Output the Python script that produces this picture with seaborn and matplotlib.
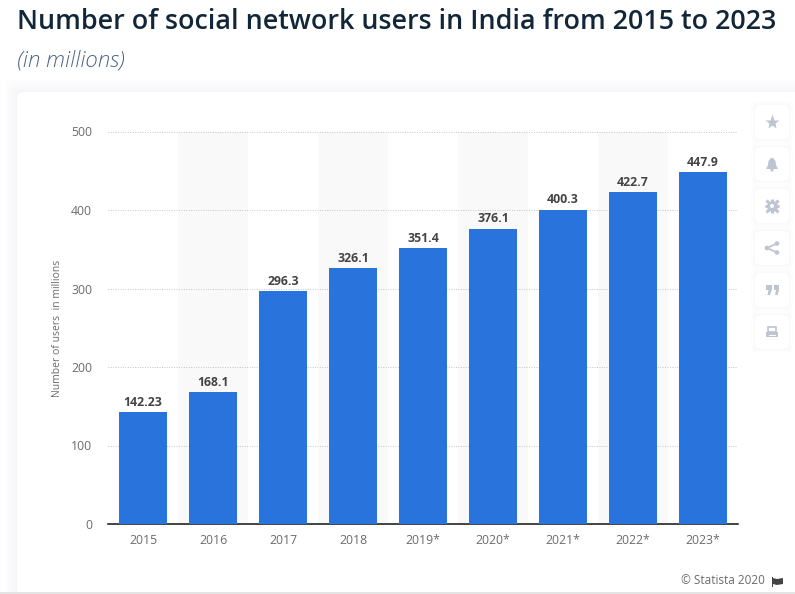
import matplotlib
matplotlib.use('Agg')
import matplotlib.pyplot as plt
from matplotlib.patches import FancyBboxPatch, Rectangle, Circle, Polygon
import seaborn as sns
import pandas as pd

# Data
years = ['2015', '2016', '2017', '2018', '2019*', '2020*', '2021*', '2022*', '2023*']
users = [142.23, 168.1, 296.3, 326.1, 351.4, 376.1, 400.3, 422.7, 447.9]
value_labels = ['142.23', '168.1', '296.3', '326.1', '351.4', '376.1', '400.3', '422.7', '447.9']
y_ticks = [0, 100, 200, 300, 400, 500]

W, H = 795, 594
BLUE = '#2873DC'
ICON = '#BEC5D1'

sns.set_theme(style='white')
plt.rcParams['font.family'] = ['Open Sans', 'DejaVu Sans']

df = pd.DataFrame({'year': years, 'users': users})

fig = plt.figure(figsize=(W / 100, H / 100), dpi=100, facecolor='white')

# background layer in pixel coordinates (card, shadow, icons)
bg = fig.add_axes([0, 0, 1, 1], zorder=0)
bg.set_xlim(0, W)
bg.set_ylim(H, 0)
bg.axis('off')

# soft shadow around the card
for i, a in zip([12, 9, 6, 3, 1], [0.006, 0.008, 0.01, 0.012, 0.014]):
    bg.add_patch(FancyBboxPatch((17 - i, 92 - i), 800, 600, boxstyle='round,pad=0,rounding_size=6',
                                fc='#5a6a85', ec='none', alpha=a))
bg.add_patch(FancyBboxPatch((17, 92), 800, 600, boxstyle='round,pad=0,rounding_size=6', fc='white', ec='none'))
bg.add_patch(Rectangle((0, 592), W, 2, fc='#E4E4E4', ec='none', zorder=5))

# side buttons
for cy in [122, 164, 206, 248, 290, 332]:
    for i, a in zip([4, 2, 1], [0.008, 0.01, 0.012]):
        bg.add_patch(FancyBboxPatch((755 - i, cy - 17 - i), 34 + 2 * i, 34 + 2 * i,
                                    boxstyle='round,pad=0,rounding_size=5', fc='#5a6a85', ec='none', alpha=a))
    bg.add_patch(FancyBboxPatch((755, cy - 17), 34, 34, boxstyle='round,pad=0,rounding_size=5', fc='white', ec='none'))

bg.plot([772], [121.5], marker='*', ms=11, color=ICON, mec='none')
# bell
bg.add_patch(Polygon([(766, 169), (768, 165), (768.5, 161), (771, 158), (773, 158), (775.5, 161), (776, 165), (778, 169)],
                     fc=ICON, ec='none'))
bg.add_patch(Circle((772, 170), 1.6, fc=ICON, ec='none'))
# gear
bg.plot([772], [206], marker='8', ms=8, color=ICON, mec='none')
bg.plot([772], [206], marker='+', ms=10, mew=2.2, color=ICON)
bg.plot([772], [206], marker='x', ms=8, mew=2.2, color=ICON)
bg.add_patch(Circle((772, 206), 2, fc='white', ec='none', zorder=5))
# share
bg.plot([777, 767, 777], [243.5, 248, 252.5], color=ICON, lw=1.3)
for sx, sy in [(777, 243.5), (767, 248), (777, 252.5)]:
    bg.add_patch(Circle((sx, sy), 2.3, fc=ICON, ec='none'))
# quote
for qx in [766, 773.5]:
    bg.add_patch(Rectangle((qx, 285), 5.5, 5, fc=ICON, ec='none'))
    bg.add_patch(Polygon([(qx + 2.5, 290), (qx + 5.5, 290), (qx + 4, 295), (qx + 1.5, 295)], fc=ICON, ec='none'))
# printer
bg.add_patch(Rectangle((768, 327), 8, 5, fc='none', ec=ICON, lw=1.2))
bg.add_patch(Rectangle((766, 332), 12, 5, fc=ICON, ec='none'))
bg.add_patch(Rectangle((768.5, 335), 7, 1.2, fc='white', ec='none'))

# chart axes
ax = fig.add_axes([108 / W, (H - 524) / H, 630 / W, (524 - 131.5) / H], zorder=2)
ax.patch.set_alpha(0)

for i in range(1, len(years), 2):
    ax.axvspan(i - 0.5, i + 0.5, color='#F9F9F9', lw=0, zorder=0)

sns.barplot(data=df, x='year', y='users', color=BLUE, saturation=1, width=0.686, linewidth=0, ax=ax, zorder=3)

ax.set_xlim(-0.5, len(years) - 0.5)
ax.set_ylim(0, 500)
ax.set_yticks(y_ticks)
ax.yaxis.grid(True, color='#C4C4C4', linestyle=(0, (1, 1.5)), linewidth=0.7, zorder=1)
ax.xaxis.grid(False)
ax.set_axisbelow(True)
for side in ['top', 'right', 'left']:
    ax.spines[side].set_visible(False)
ax.spines['bottom'].set_color('#111111')
ax.spines['bottom'].set_linewidth(1.1)
ax.tick_params(axis='both', length=0, labelsize=8.8, labelcolor='#6B6B6B')
ax.tick_params(axis='x', pad=7.5)
ax.tick_params(axis='y', pad=11.5)
ax.set_xlabel('')
ax.set_ylabel('')

for i, v in enumerate(users):
    ax.annotate(value_labels[i], (i, v), xytext=(0, 2.5), textcoords='offset points', ha='center', va='bottom',
                fontsize=8.8, fontweight='bold', color='#444444', zorder=4)

fig.text(58 / W, 1 - 328 / H, 'Number of users  in millions', rotation=90, ha='center', va='center',
         fontsize=7.5, color='#6B6B6B')

fig.text(17 / W, 1 - 22 / H, 'Number of social network users in India from 2015 to 2023', ha='left', va='center',
         fontsize=19.4, fontweight='semibold', color='#12263A')
fig.text(17 / W, 1 - 60 / H, '(in millions)', ha='left', va='center', fontsize=16, fontstyle='italic',
         fontweight='light', color='#4E6580')

fig.text(765 / W, 1 - 581 / H, '© Statista 2020', ha='right', va='center', fontsize=8.5, color='#6B6B6B')
# little flag next to the source
bg.add_patch(Rectangle((772, 577), 1, 10, fc='#444444', ec='none'))
bg.add_patch(Polygon([(773, 578), (777, 579), (783, 578), (783, 584), (777, 585), (773, 584)], fc='#444444', ec='none'))

fig.savefig('out.png', dpi=100, facecolor='white')
